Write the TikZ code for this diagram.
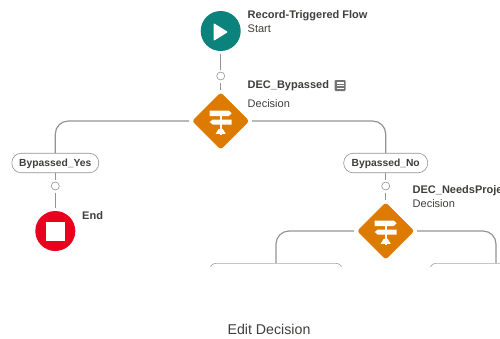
\documentclass[tikz,border=0pt]{standalone}
\usepackage{fontspec}
\setmainfont{Liberation Sans}
\usetikzlibrary{shapes.geometric}
\definecolor{startteal}{HTML}{0B827C}
\definecolor{decorange}{HTML}{DD7A01}
\definecolor{endred}{HTML}{EA001E}
\definecolor{wiregray}{HTML}{939393}
\definecolor{inkgray}{HTML}{3E3E3C}
\tikzset{
    x=1pt, y=-1pt,
    wire/.style={draw=wiregray, line width=1.2pt},
    startnode/.style={circle, fill=startteal, minimum size=40pt, inner sep=0pt, outer sep=3pt},
    endnode/.style={circle, fill=endred, minimum size=40pt, inner sep=0pt, outer sep=3pt},
    decnode/.style={diamond, fill=decorange, minimum size=59pt, inner sep=0pt, outer sep=2pt, rounded corners=3pt},
    dot/.style={circle, draw=wiregray, fill=white, line width=.6pt, minimum size=8pt, inner sep=0pt, outer sep=2.5pt},
    pill/.style={draw=wiregray, fill=white, rounded corners=9.5pt, line width=.6pt, minimum height=19.5pt, inner sep=0pt, text height=8pt, text depth=1pt, font=\fontsize{10.3}{10.3}\selectfont\bfseries, text=inkgray},
    stepbox/.style={draw=wiregray!80, fill=white, rounded corners=6pt, line width=.7pt, minimum width=132pt, minimum height=40pt, inner sep=0pt, anchor=north},
    titlelbl/.style={anchor=west, inner sep=0pt, font=\fontsize{11}{11}\selectfont\bfseries, text=inkgray},
    sublbl/.style={anchor=west, inner sep=0pt, font=\fontsize{11}{11}\selectfont, text=inkgray}
}
% signpost glyph inside a decision
\newcommand{\signpost}[1]{
    \fill[white] ([shift={(-0.8,-10.5)}]#1.center) rectangle ++(1.6,24);
    \fill[white] ([shift={(-11,-10.5)}]#1.center) -- ++(19,0) -- ++(3,2.75) -- ++(-3,2.75) -- ++(-19,0) -- cycle;
    \fill[white] ([shift={(11,-1.5)}]#1.center) -- ++(-19,0) -- ++(-3,2.5) -- ++(3,2.5) -- ++(19,0) -- cycle;
    \fill[white] ([shift={(-5,12.8)}]#1.center) -- ++(10,0) -- ++(-3,-5) -- ++(-4,0) -- cycle;
}
\begin{document}
\begin{tikzpicture}
    \useasboundingbox (0,0) rectangle (500,338);

    % flow nodes
    \node[startnode] (start) at (220.7,31) {};
    \node[decnode] (bypass) at (220.7,121) {};
    \node[dot] (dotstart) at (220.7,76) {};
    \node[pill, minimum width=87pt] (yes) at (55.3,163) {Bypassed\_Yes};
    \node[dot] (dotyes) at (55.3,186) {};
    \node[endnode] (stop) at (55.3,231) {};
    \node[pill, minimum width=84pt] (no) at (385.7,163) {Bypassed\_No};
    \node[dot] (dotno) at (385.7,186) {};
    \node[decnode] (needs) at (385.7,231) {};

    \begin{scope}
        \clip (0,0) rectangle (500,266);
        \node[stepbox] (leftbox) at (276,263) {};
        \node[stepbox] (rightbox) at (496,263) {};
    \end{scope}

    % connectors
    \draw[wire] (start) -- (dotstart);
    \draw[wire] (dotstart) -- (bypass);
    \draw[wire, rounded corners=13pt] (bypass) -- (yes |- bypass) -- (yes);
    \draw[wire, rounded corners=13pt] (bypass) -- (no |- bypass) -- (no);
    \draw[wire] (yes) -- (dotyes);
    \draw[wire] (dotyes) -- (stop);
    \draw[wire] (no) -- (dotno);
    \draw[wire] (dotno) -- (needs);
    \draw[wire, rounded corners=13pt] (needs) -- (leftbox.north |- needs) -- (leftbox.north);
    \draw[wire, rounded corners=13pt] (needs) -- (rightbox.north |- needs) -- (rightbox.north);

    % icons
    \fill[white, rounded corners=1pt] (213.5,23) -- (228,32) -- (213.5,41) -- cycle;
    \fill[white] (46,222) rectangle (64.5,240.5);
    \signpost{bypass}
    \signpost{needs}

    % labels
    \node[titlelbl] (lblstart) at (247.5,15.7) {Record-Triggered Flow};
    \node[sublbl] (substart) at (247.5,28.7) {Start};
    \node[titlelbl] (lblbypass) at (247.5,85.7) {DEC\_Bypassed};
    \node[sublbl] (subbypass) at (247.5,103.7) {Decision};
    \node[titlelbl] (lblstop) at (82,215.7) {End};
    \node[titlelbl] (lblneeds) at (412.5,190.7) {DEC\_NeedsProje};
    \node[sublbl] (subneeds) at (412.5,203.7) {Decision};
    \node[inner sep=0pt, font=\fontsize{14.2}{14.2}\selectfont, text=inkgray] (title) at (269,329) {Edit Decision};

    % note icon next to the label
    \fill[black!55, rounded corners=1pt] (334.5,80) rectangle (345.5,91);
    \fill[white] (336.5,82) rectangle (343.5,83.5);
    \fill[white] (336.5,84.8) rectangle (343.5,86.2);
    \fill[white] (336.5,87.5) rectangle (343.5,89);
\end{tikzpicture}
\end{document}
